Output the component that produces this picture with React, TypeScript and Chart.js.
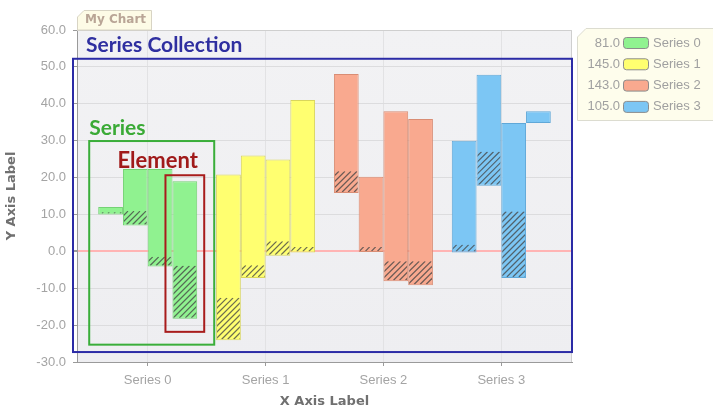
import React, { useEffect, useRef } from 'react';
import { Chart, registerables } from 'chart.js';

Chart.register(...registerables);

// ---- data ----
const categories = ['Series 0', 'Series 1', 'Series 2', 'Series 3'];
const legendValues = ['81.0', '145.0', '143.0', '105.0'];

// each series (category) has 4 elements: low (hatched start), mid (hatch/solid split), high
const series0Low = [10, 7, -4.1, -18.3];
const series0Mid = [10.6, 10.9, -1.5, -3.9];
const series0High = [12, 22.3, 22.3, 19];

const series1Low = [-24.1, -7.2, -1.2, -0.3];
const series1Mid = [-12.6, -3.8, 2.7, 1.2];
const series1High = [20.8, 26, 24.9, 41];

const series2Low = [15.8, -0.2, -8.1, -9.2];
const series2Mid = [21.7, 1.2, -2.7, -2.7];
const series2High = [48.1, 20.2, 38, 35.9];

const series3Low = [-0.3, 17.8, -7.2, 34.8];
const series3Mid = [1.8, 27, 10.8, 35.1];
const series3High = [30, 47.9, 34.8, 38];

const lows = [series0Low, series1Low, series2Low, series3Low];
const mids = [series0Mid, series1Mid, series2Mid, series3Mid];
const highs = [series0High, series1High, series2High, series3High];

const yMin = -30;
const yMax = 60;
const yStep = 10;

// ---- styles ----
const fillColors = ['#90f290', '#ffff70', '#f9a98f', '#7cc6f4'];
const edgeColors = ['#74d274', '#d9d65c', '#d98d74', '#60a8d8'];
const tickFont = { family: 'Liberation Sans, Arial, sans-serif', size: 13 };
const tickColor = '#a4a4a4';
const titleFont = { family: 'DejaVu Sans', size: 13, weight: 'bold' as const };

function drawHatch(ctx: CanvasRenderingContext2D, x0: number, x1: number, y0: number, y1: number) {
  ctx.save();
  ctx.beginPath();
  ctx.rect(x0, y0, x1 - x0, y1 - y0);
  ctx.clip();
  ctx.strokeStyle = 'rgba(70,70,70,0.8)';
  ctx.lineWidth = 1.2;
  const h = y1 - y0;
  for (let s = x0 - h - 8; s < x1 + 8; s += 6) {
    ctx.beginPath();
    ctx.moveTo(s, y1);
    ctx.lineTo(s + h, y0);
    ctx.stroke();
  }
  ctx.restore();
}

const decorPlugin = {
  id: 'decor',
  beforeDraw(chart: any) {
    const { ctx, chartArea: a } = chart;
    ctx.save();
    const g = ctx.createLinearGradient(0, a.top, 0, a.bottom);
    g.addColorStop(0, '#f2f2f4');
    g.addColorStop(1, '#eeeef1');
    ctx.fillStyle = g;
    ctx.fillRect(a.left, a.top, a.right - a.left, a.bottom - a.top);
    ctx.restore();
  },
  afterDatasetsDraw(chart: any) {
    const { ctx } = chart;
    const yScale = chart.scales.y;
    chart.data.datasets.forEach((_: any, j: number) => {
      const meta = chart.getDatasetMeta(j);
      meta.data.forEach((el: any, i: number) => {
        const { x, width } = el.getProps(['x', 'width'], true);
        const yLow = yScale.getPixelForValue(lows[i][j]);
        const yMid = yScale.getPixelForValue(mids[i][j]);
        drawHatch(ctx, x - width / 2 + 1, x + width / 2 - 1, Math.min(yLow, yMid), Math.max(yLow, yMid) - 1);
      });
    });
  },
  afterDraw(chart: any) {
    const { ctx, chartArea: a } = chart;
    const yScale = chart.scales.y;
    ctx.save();
    // plot frame (top / right)
    ctx.strokeStyle = '#cfcfcf';
    ctx.lineWidth = 1;
    ctx.beginPath();
    ctx.moveTo(a.left, a.top + 0.5);
    ctx.lineTo(a.right - 0.5, a.top + 0.5);
    ctx.lineTo(a.right - 0.5, a.bottom);
    ctx.stroke();

    // title tab
    const tl = a.left;
    const tr = a.left + 74;
    const tt = a.top - 20;
    ctx.fillStyle = '#fdfbe6';
    ctx.strokeStyle = '#d8d4c4';
    ctx.beginPath();
    ctx.moveTo(tl + 0.5, a.top);
    ctx.lineTo(tl + 0.5, tt + 7);
    ctx.lineTo(tl + 7, tt + 0.5);
    ctx.lineTo(tr + 0.5, tt + 0.5);
    ctx.lineTo(tr + 0.5, a.top);
    ctx.closePath();
    ctx.fill();
    ctx.stroke();
    ctx.fillStyle = '#b9a596';
    ctx.font = 'bold 12px "DejaVu Sans"';
    ctx.textAlign = 'left';
    ctx.textBaseline = 'middle';
    ctx.fillText('My Chart', tl + 8, tt + 10);

    // annotation: series collection
    ctx.lineWidth = 2;
    const bTop = yScale.getPixelForValue(52.2);
    const bBottom = yScale.getPixelForValue(-27.3);
    ctx.strokeStyle = '#2b2ba6';
    ctx.strokeRect(a.left - 4, bTop, a.right - a.left + 4, bBottom - bTop);
    ctx.font = 'bold 21px Lato';
    ctx.textBaseline = 'alphabetic';
    ctx.fillStyle = '#2f2fa0';
    ctx.fillText('Series Collection', a.left + 9, bTop - 7);

    // annotation: series (group 0)
    const first = chart.getDatasetMeta(0).data[0].getProps(['x', 'width'], true);
    const last = chart.getDatasetMeta(3).data[0].getProps(['x', 'width'], true);
    const gLeft = first.x - first.width / 2 - 9;
    const gRight = last.x + last.width / 2 + 17;
    const gTop = yScale.getPixelForValue(29.9);
    const gBottom = yScale.getPixelForValue(-25.3);
    ctx.strokeStyle = '#3aae3a';
    ctx.strokeRect(gLeft, gTop, gRight - gLeft, gBottom - gTop);
    ctx.fillStyle = '#3aaa36';
    ctx.fillText('Series', gLeft, gTop - 6);

    // annotation: element
    const eLeft = last.x - last.width / 2 - 7;
    const eRight = last.x + last.width / 2 + 7;
    const eTop = yScale.getPixelForValue(highs[0][3]) - 6;
    const eBottom = yScale.getPixelForValue(lows[0][3]) + 13;
    ctx.strokeStyle = '#a81c1c';
    ctx.strokeRect(eLeft, eTop, eRight - eLeft, eBottom - eTop);
    ctx.fillStyle = '#a01a1a';
    ctx.font = 'bold 22px Lato';
    ctx.fillText('Element', eLeft - 48, eTop - 7);

    // legend
    const lx = a.right + 5;
    const ly = a.top - 2;
    const lw = 140;
    const lh = 92;
    ctx.lineWidth = 1;
    ctx.fillStyle = '#fefdec';
    ctx.strokeStyle = '#dcdcd0';
    ctx.beginPath();
    ctx.moveTo(lx + 0.5, ly + lh + 0.5);
    ctx.lineTo(lx + 0.5, ly + 9);
    ctx.lineTo(lx + 9, ly + 0.5);
    ctx.lineTo(lx + lw, ly + 0.5);
    ctx.lineTo(lx + lw, ly + lh + 0.5);
    ctx.closePath();
    ctx.fill();
    ctx.stroke();
    ctx.font = '13px "Liberation Sans"';
    ctx.textBaseline = 'middle';
    categories.forEach((c, i) => {
      const ry = ly + 15 + i * 21.3;
      ctx.fillStyle = '#a0a0a0';
      ctx.textAlign = 'right';
      ctx.fillText(legendValues[i], lx + 43, ry);
      ctx.textAlign = 'left';
      ctx.fillText(c, lx + 76, ry);
      ctx.fillStyle = fillColors[i];
      ctx.strokeStyle = '#8c8c8c';
      ctx.beginPath();
      (ctx as any).roundRect(lx + 46.5, ry - 5.5, 25, 11, 3);
      ctx.fill();
      ctx.stroke();
    });
    ctx.restore();
  },
};

export default function App() {
  const ref = useRef<HTMLCanvasElement>(null);
  useEffect(() => {
    const datasets = [0, 1, 2, 3].map((j) => ({
      label: 'Element ' + j,
      data: categories.map((_, i) => ({ x: i, y: [lows[i][j], highs[i][j]] })),
      backgroundColor: fillColors,
      borderColor: edgeColors,
      borderWidth: 1,
      borderSkipped: false,
    }));
    const chart = new Chart(ref.current as HTMLCanvasElement, {
      type: 'bar',
      data: { datasets } as any,
      plugins: [decorPlugin],
      options: {
        animation: false,
        responsive: false,
        layout: { padding: { top: 30, right: 141, left: 0, bottom: 0 } },
        datasets: { bar: { categoryPercentage: 0.84, barPercentage: 1 } },
        plugins: {
          legend: { display: false },
          tooltip: { enabled: false },
          title: { display: false },
        },
        scales: {
          x: {
            type: 'linear',
            min: -0.6,
            max: 3.6,
            offset: false,
            afterBuildTicks: (s: any) => {
              s.ticks = categories.map((_, i) => ({ value: i }));
            },
            afterFit: (s: any) => {
              s.height = 48;
            },
            ticks: {
              callback: (v: any) => categories[v] ?? '',
              font: tickFont,
              color: tickColor,
              padding: 7,
              maxRotation: 0,
              autoSkip: false,
            },
            grid: { offset: false, color: '#e2e2e4', tickColor: '#9a9a9a', tickLength: 4 },
            border: { color: '#9a9a9a' },
            title: {
              display: true,
              text: 'X Axis Label',
              font: titleFont,
              color: '#707070',
              padding: { top: 0, bottom: 1 },
            },
          },
          y: {
            min: yMin,
            max: yMax,
            afterFit: (s: any) => {
              s.width = 77;
            },
            ticks: {
              stepSize: yStep,
              callback: (v: any) => Number(v).toFixed(1),
              font: tickFont,
              color: tickColor,
              padding: 7,
            },
            grid: {
              color: (c: any) => (c.tick && c.tick.value === 0 ? '#ffb4b4' : '#dcdcde'),
              lineWidth: (c: any) => (c.tick && c.tick.value === 0 ? 2 : 1),
              tickColor: '#9a9a9a',
              tickLength: 4,
            },
            border: { color: '#9a9a9a' },
            title: {
              display: true,
              text: 'Y Axis Label',
              font: titleFont,
              color: '#707070',
              padding: { top: 4, bottom: 0 },
            },
          },
        },
      } as any,
    });
    return () => chart.destroy();
  }, []);
  return (
    <canvas
      ref={ref}
      width={713}
      height={410}
      style={{ position: 'absolute', left: 0, top: 0, display: 'block', background: '#ffffff' }}
    />
  );
}
